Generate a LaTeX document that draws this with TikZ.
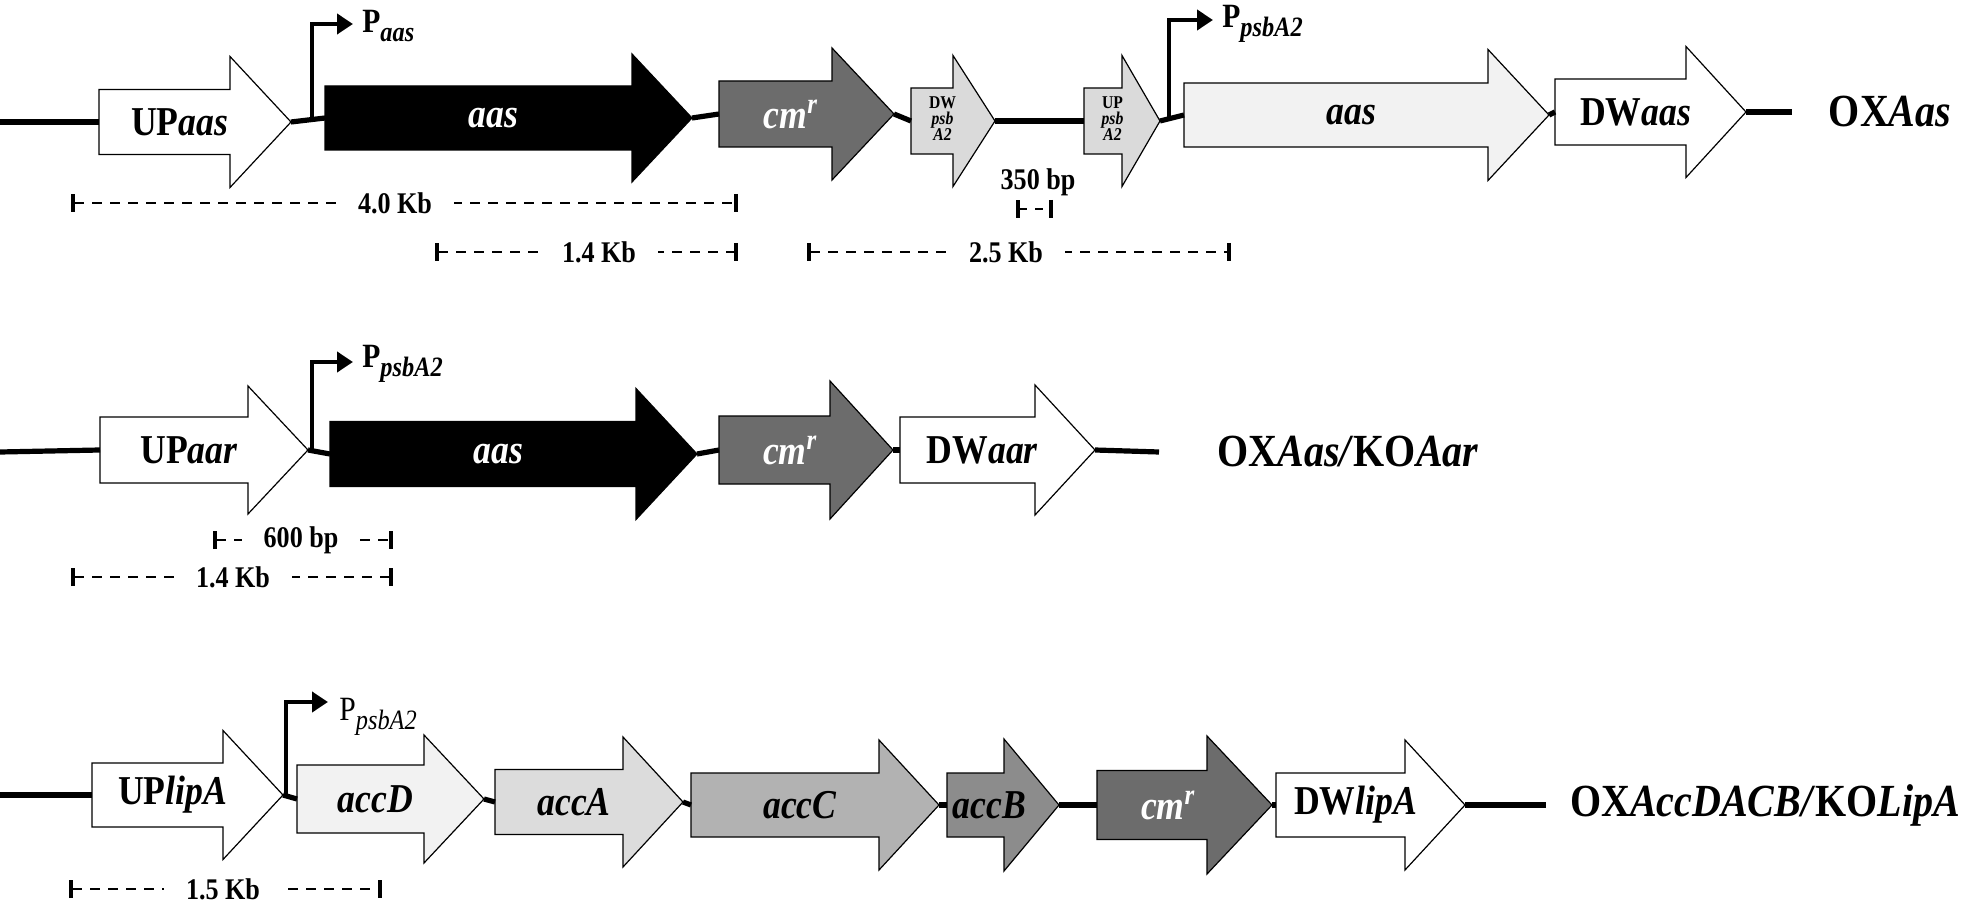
\documentclass[tikz,border=0pt]{standalone}
\usepackage{fontspec}
\setmainfont[FakeStretch=0.87]{Liberation Serif}
\usetikzlibrary{arrows.meta}
\definecolor{cmrgray}{HTML}{6C6C6C}
\definecolor{paleg}{HTML}{F2F2F2}
\definecolor{psbg}{HTML}{DADADA}
\definecolor{accAg}{HTML}{DCDCDC}
\definecolor{accCg}{HTML}{B2B2B2}
\definecolor{accBg}{HTML}{8C8C8C}
\tikzset{
  gene/.style={draw=black, line width=0.6pt, line join=miter},
  backbone/.style={line width=2.6pt},
  promoter/.style={line width=2pt, -{Triangle[length=8pt,width=10pt]}},
  dimline/.style={line width=1.2pt, dash pattern=on 5pt off 4pt,
     {Bar[width=9pt,line width=2pt]}-{Bar[width=9pt,line width=2pt]}},
  dimlabel/.style={fill=white, inner xsep=11pt, inner ysep=1pt, font=\fontsize{15}{15}\selectfont\bfseries},
  genelabel/.style={inner sep=0pt, align=center, font=\fontsize{20.5}{20.5}\selectfont\bfseries},
  strain/.style={inner sep=0pt, font=\fontsize{23}{23}\selectfont\bfseries},
  plabel/.style={anchor=base west, inner sep=0pt, font=\fontsize{17}{17}\selectfont\bfseries}
}
% #1 name, #2 style, #3 left x, #4 head start x, #5 tip x, #6 centre y, #7 body half height, #8 head half height, #9 label
\newcommand\genearrow[9]{%
  \draw[gene,#2] ({#3},{#6-#7}) -- ({#4},{#6-#7}) -- ({#4},{#6-#8}) -- ({#5},{#6})
     -- ({#4},{#6+#8}) -- ({#4},{#6+#7}) -- ({#3},{#6+#7}) -- cycle;
  \coordinate (#1-l) at ({#3},{#6});
  \coordinate (#1-r) at ({#5},{#6});
  \node[genelabel] (#1) at ({(2*#3+#4+#5)/4},{#6}) {#9};
}
\newcommand\psbsub[1]{\raisebox{-4.5pt}{\fontsize{14}{14}\selectfont\textit{#1}}}
\newcommand\smallstack[1]{{\fontsize{9}{10}\selectfont\begin{tabular}{@{}c@{}}#1\end{tabular}}}
\newcommand\cmr{\textit{cm\textsuperscript{r}}}
\begin{document}
\begin{tikzpicture}[x=0.5pt,y=-0.5pt]
\useasboundingbox (0,0) rectangle (1961,909);

% ---------------- Row 1 ----------------
\coordinate (r1s) at (0,122);
\genearrow{upaas}{fill=white}{99}{230}{291}{122}{32.5}{65.5}{UP\textit{aas}}
\genearrow{aasA}{fill=black}{325}{632}{692}{118}{32}{64}{\textcolor{white}{\textit{aas}}}
\genearrow{cmrA}{fill=cmrgray}{719}{832}{894}{114}{33}{66}{\textcolor{white}{\cmr}}
\genearrow{dwpsb}{fill=psbg}{911}{953}{995}{121}{33}{65.5}{\smallstack{DW\\[-2pt]\textit{psb}\\[-2pt]\textit{A2}}}
\genearrow{uppsb}{fill=psbg}{1084}{1122}{1160}{121}{33}{65.5}{\smallstack{UP\\[-2pt]\textit{psb}\\[-2pt]\textit{A2}}}
\genearrow{aasB}{fill=paleg}{1184}{1488}{1549}{115}{32}{65.5}{\textit{aas}}
\genearrow{dwaas}{fill=white}{1555}{1686}{1746}{112}{33}{65.5}{DW\textit{aas}}
\coordinate (r1e) at (1792,112);
\draw[backbone] (r1s) -- (upaas-l);
\draw[backbone] (upaas-r) -- (aasA-l);
\draw[backbone] (aasA-r) -- (cmrA-l);
\draw[backbone] (cmrA-r) -- (dwpsb-l);
\draw[backbone] (dwpsb-r) -- (uppsb-l);
\draw[backbone] (uppsb-r) -- (aasB-l);
\draw[backbone] (aasB-r) -- (dwaas-l);
\draw[backbone] (dwaas-r) -- (r1e);
\node[strain] (s1) at (1890,112) {OX\textit{Aas}};

\coordinate (p1b) at (312,121);
\coordinate (p1e) at (353,24);
\draw[promoter] (p1b) |- (p1e);
\node[plabel] (p1l) at (362,33) {P\psbsub{aas}};
\coordinate (p2b) at (1169,119);
\coordinate (p2e) at (1213,20);
\draw[promoter] (p2b) |- (p2e);
\node[plabel] (p2l) at (1222,28) {P\psbsub{psbA2}};

\coordinate (d1a) at (71,203);  \coordinate (d1b) at (738,203);
\draw[dimline] (d1a) -- (d1b);
\node[dimlabel] (d1t) at (395,203) {4.0 Kb};
\coordinate (d2a) at (435,252); \coordinate (d2b) at (738,252);
\draw[dimline] (d2a) -- (d2b);
\node[dimlabel] (d2t) at (599,252) {1.4 Kb};
\coordinate (d3a) at (807,252); \coordinate (d3b) at (1231,252);
\draw[dimline] (d3a) -- (d3b);
\node[dimlabel] (d3t) at (1006,252) {2.5 Kb};
\coordinate (d4a) at (1016,209); \coordinate (d4b) at (1053,209);
\draw[dimline, dash pattern=on 4pt off 4pt] (d4a) -- (d4b);
\node[font=\fontsize{15}{15}\selectfont\bfseries, inner sep=0pt] (d4t) at (1038,182) {350 bp};

% ---------------- Row 2 ----------------
\coordinate (r2s) at (0,452);
\genearrow{upaar}{fill=white}{100}{248}{308}{450}{33}{64}{UP\textit{aar}}
\genearrow{aasC}{fill=black}{330}{636}{697}{454}{32.5}{65.5}{\textcolor{white}{\textit{aas}}}
\genearrow{cmrB}{fill=cmrgray}{719}{830}{893}{450}{34}{69}{\textcolor{white}{\cmr}}
\genearrow{dwaar}{fill=white}{900}{1035}{1095}{450}{33}{65}{DW\textit{aar}}
\coordinate (r2e) at (1159,452);
\draw[backbone] (r2s) -- (upaar-l);
\draw[backbone] (upaar-r) -- (aasC-l);
\draw[backbone] (aasC-r) -- (cmrB-l);
\draw[backbone] (cmrB-r) -- (dwaar-l);
\draw[backbone] (dwaar-r) -- (r2e);
\node[strain] (s2) at (1348,452) {OX\textit{Aas/}KO\textit{Aar}};

\coordinate (p3b) at (312,452);
\coordinate (p3e) at (353,362);
\draw[promoter] (p3b) |- (p3e);
\node[plabel] (p3l) at (362,368) {P\psbsub{psbA2}};

\coordinate (d5a) at (213,540); \coordinate (d5b) at (393,540);
\draw[dimline] (d5a) -- (d5b);
\node[dimlabel] (d5t) at (301,540) {600 bp};
\coordinate (d6a) at (71,577); \coordinate (d6b) at (393,577);
\draw[dimline] (d6a) -- (d6b);
\node[dimlabel] (d6t) at (233,577) {1.4 Kb};

% ---------------- Row 3 ----------------
\coordinate (r3s) at (0,795);
\genearrow{uplip}{fill=white}{92}{223}{283}{795}{32}{64.5}{UP\textit{lipA}}
\genearrow{accD}{fill=paleg}{297}{424}{484}{799}{34}{64}{\textit{accD}}
\genearrow{accA}{fill=accAg}{495}{623}{683}{802}{32.5}{65}{\textit{accA}}
\genearrow{accC}{fill=accCg}{691}{879}{939}{805}{32}{65}{\textit{accC}}
\genearrow{accB}{fill=accBg}{947}{1004}{1059}{805}{32}{66}{\textit{accB}}
\genearrow{cmrC}{fill=cmrgray}{1097}{1207}{1272}{805}{34.5}{69}{\textcolor{white}{\cmr}}
\genearrow{dwlip}{fill=white}{1276}{1405}{1465}{805}{32}{65}{DW\textit{lipA}}
\coordinate (r3e) at (1546,805);
\draw[backbone] (r3s) -- (uplip-l);
\draw[backbone] (uplip-r) -- (accD-l);
\draw[backbone] (accD-r) -- (accA-l);
\draw[backbone] (accA-r) -- (accC-l);
\draw[backbone] (accC-r) -- (accB-l);
\draw[backbone] (accB-r) -- (cmrC-l);
\draw[backbone] (cmrC-r) -- (dwlip-l);
\draw[backbone] (dwlip-r) -- (r3e);
\node[strain] (s3) at (1765,805) {OX\textit{AccDACB/}KO\textit{LipA}};

\coordinate (p4b) at (286,797);
\coordinate (p4e) at (328,702);
\draw[promoter] (p4b) |- (p4e);
\node[plabel, font=\fontsize{17}{17}\selectfont] (p4l) at (339,720) {P\psbsub{psbA2}};

\coordinate (d7a) at (69,889); \coordinate (d7b) at (382,889);
\draw[dimline] (d7a) -- (d7b);
\node[dimlabel] (d7t) at (223,889) {1.5 Kb};
\end{tikzpicture}
\end{document}
